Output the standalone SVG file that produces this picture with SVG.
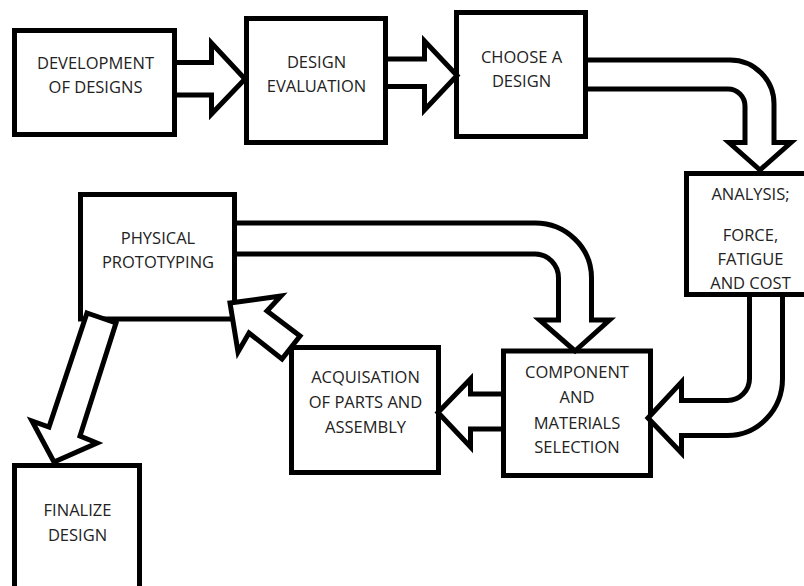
<svg xmlns="http://www.w3.org/2000/svg" width="804" height="586" viewBox="0 0 804 586">
<style>
.box{fill:#fff;stroke:#000;stroke-width:5}
.arr{fill:#fff;stroke:#000;stroke-width:5;stroke-linejoin:miter;stroke-miterlimit:10}
text{font-family:"Open Sans","Noto Sans",sans-serif;font-size:16.5px;fill:#222;text-anchor:middle}
</style>
<rect width="804" height="586" fill="#fff"/>
<g id="nodes">
<g id="dev"><rect class="box" x="14.5" y="30.5" width="160" height="104"/><text x="95.5" y="69">DEVELOPMENT</text><text x="95.5" y="93">OF DESIGNS</text></g>
<g id="eval"><rect class="box" x="246.5" y="18.5" width="139" height="124"/><text x="316.5" y="68">DESIGN</text><text x="316.5" y="92">EVALUATION</text></g>
<g id="choose"><rect class="box" x="456.5" y="12.5" width="129" height="124"/><text x="521.5" y="63">CHOOSE A</text><text x="521.5" y="87">DESIGN</text></g>
<g id="analysis"><rect class="box" x="686.5" y="173.5" width="130" height="121"/><text x="750.5" y="200">ANALYSIS;</text><text x="750.5" y="241">FORCE,</text><text x="750.5" y="265">FATIGUE</text><text x="750.5" y="289">AND COST</text></g>
<g id="component"><rect class="box" x="503.5" y="351" width="147" height="124.5"/><text x="577" y="378">COMPONENT</text><text x="577" y="403">AND</text><text x="577" y="428.5">MATERIALS</text><text x="577" y="452.5">SELECTION</text></g>
<g id="acquisition"><rect class="box" x="291.5" y="347.5" width="147" height="125"/><text x="365.5" y="383">ACQUISATION</text><text x="365.5" y="408">OF PARTS AND</text><text x="365.5" y="433">ASSEMBLY</text></g>
<g id="physical"><rect class="box" x="80.5" y="194.5" width="154" height="124.5"/><text x="158" y="244">PHYSICAL</text><text x="158" y="268">PROTOTYPING</text></g>
<g id="finalize"><rect class="box" x="14.5" y="465.5" width="125" height="140"/><text x="77.5" y="515.5">FINALIZE</text><text x="77.5" y="540.5">DESIGN</text></g>
</g>
<g id="connectors">
<path class="arr" d="M174.5,62.5 H211.5 V43 L245,79 L211.5,114 V95 H174.5 Z"/>
<path class="arr" d="M385.5,59 H424.5 V41 L457,75.5 L424.5,110 V86.5 H385.5 Z"/>
<path class="arr" d="M585.5,60 H730 A44,44 0 0 1 774,104 V142.5 H791 L760,170 L729,142.5 H745 V106 A17,17 0 0 0 728,89 H585.5 Z"/>
<path class="arr" d="M749.5,294.5 V378.5 A22,22 0 0 1 727.5,400.5 H681.5 V382 L648,418 L681.5,453 V435.5 H727.5 A55,57 0 0 0 782.5,378.5 V294.5 Z"/>
<path class="arr" d="M234.5,223 H535 A56.5,55 0 0 1 591.5,278 V320 H609.5 L575,351 L539.5,320 H558.5 V278 A23.5,24 0 0 0 535,254 H234.5 Z"/>
<path class="arr" d="M503.5,394 H470.5 V379 L438,412.5 L470.5,447 V429 H503.5 Z"/>
<path class="arr" d="M87,313 L116,323 L80,436 L97,443 L54,462 L32,421 L49,427 Z"/>
<path class="arr" d="M230,303 L281,296 L267,311 L300,336 L282,359 L249,333 L238,352 Z"/>
</g>
</svg>
